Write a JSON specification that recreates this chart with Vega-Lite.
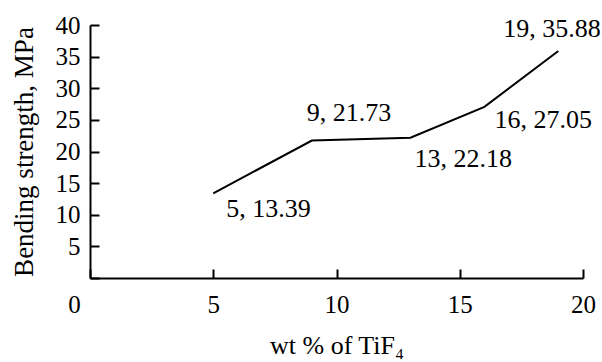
{
  "$schema": "https://vega.github.io/schema/vega-lite/v6.json",
  "width": 493,
  "height": 253,
  "autosize": "none",
  "padding": {"left": 90, "top": 25, "right": 19, "bottom": 84},
  "background": "white",
  "config": {
    "view": {"stroke": null},
    "font": "Liberation Serif",
    "axis": {
      "grid": false,
      "labelFlush": false,
      "domainColor": "black",
      "domainWidth": 2,
      "tickColor": "black",
      "tickWidth": 2,
      "labelColor": "black",
      "titleColor": "black",
      "labelFont": "Liberation Serif",
      "titleFont": "Liberation Serif",
      "labelFontSize": 25,
      "titleFontSize": 26,
      "titleFontWeight": "normal"
    }
  },
  "data": {
    "values": [
      {"wt": 5, "strength": 13.39, "label": "5, 13.39"},
      {"wt": 9, "strength": 21.73, "label": "9, 21.73"},
      {"wt": 13, "strength": 22.18, "label": "13, 22.18"},
      {"wt": 16, "strength": 27.05, "label": "16, 27.05"},
      {"wt": 19, "strength": 35.88, "label": "19, 35.88"}
    ]
  },
  "encoding": {
    "x": {
      "field": "wt",
      "type": "quantitative",
      "scale": {"domain": [0, 20], "nice": false, "zero": false},
      "axis": {
        "title": "wt % of TiF₄",
        "values": [0, 5, 10, 15, 20],
        "tickSize": -9,
        "labelPadding": 23,
        "labelOffset": {"condition": {"test": "datum.value === 0", "value": -16}, "value": 0},
        "titlePadding": 15
      }
    },
    "y": {
      "field": "strength",
      "type": "quantitative",
      "scale": {"domain": [0, 40], "nice": false},
      "axis": {
        "title": "Bending strength, MPa",
        "titleFontSize": 27,
        "values": [0, 5, 10, 15, 20, 25, 30, 35, 40],
        "labelExpr": "datum.value === 0 ? '' : datum.label",
        "tickSize": -9,
        "labelPadding": 19,
        "titlePadding": 17
      }
    }
  },
  "layer": [
    {"mark": {"type": "line", "color": "black", "strokeWidth": 2}},
    {
      "transform": [{"filter": "datum.wt === 5"}],
      "mark": {"type": "text", "align": "left", "baseline": "alphabetic", "dx": 13, "dy": 24, "fontSize": 26, "font": "Liberation Serif", "color": "black"},
      "encoding": {"text": {"field": "label"}}
    },
    {
      "transform": [{"filter": "datum.wt === 9"}],
      "mark": {"type": "text", "align": "left", "baseline": "alphabetic", "dx": -5, "dy": -20, "fontSize": 26, "font": "Liberation Serif", "color": "black"},
      "encoding": {"text": {"field": "label"}}
    },
    {
      "transform": [{"filter": "datum.wt === 13"}],
      "mark": {"type": "text", "align": "left", "baseline": "alphabetic", "dx": 4, "dy": 29, "fontSize": 26, "font": "Liberation Serif", "color": "black"},
      "encoding": {"text": {"field": "label"}}
    },
    {
      "transform": [{"filter": "datum.wt === 16"}],
      "mark": {"type": "text", "align": "left", "baseline": "alphabetic", "dx": 10, "dy": 21, "fontSize": 26, "font": "Liberation Serif", "color": "black"},
      "encoding": {"text": {"field": "label"}}
    },
    {
      "transform": [{"filter": "datum.wt === 19"}],
      "mark": {"type": "text", "align": "left", "baseline": "alphabetic", "dx": -55, "dy": -14, "fontSize": 26, "font": "Liberation Serif", "color": "black"},
      "encoding": {"text": {"field": "label"}}
    }
  ]
}
